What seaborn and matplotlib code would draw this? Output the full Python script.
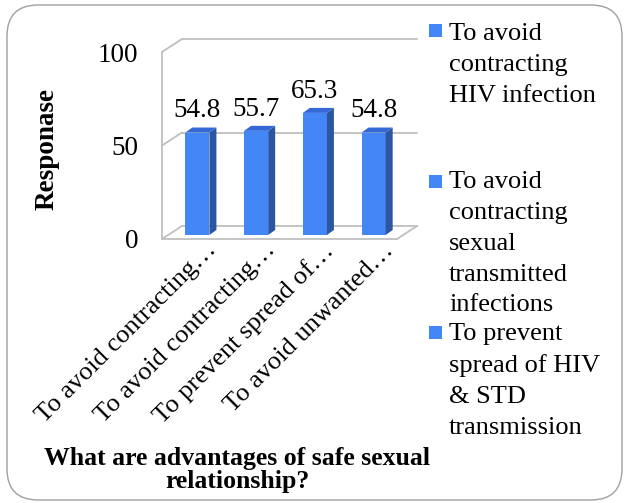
import matplotlib
matplotlib.use("Agg")
import matplotlib.pyplot as plt
import matplotlib.transforms as mtransforms
from matplotlib.patches import Polygon, Rectangle, FancyBboxPatch
import seaborn as sns
import pandas as pd

# ---- data ----
categories = [
    "To avoid contracting HIV infection",
    "To avoid contracting sexual transmitted infections",
    "To prevent spread of HIV & STD transmission",
    "To avoid unwanted pregnancy",
]
tick_labels = [
    "To avoid contracting…",
    "To avoid contracting…",
    "To prevent spread of…",
    "To avoid unwanted…",
]
values = [54.8, 55.7, 65.3, 54.8]
legend_labels = [
    "To avoid\ncontracting\nHIV infection",
    "To avoid\ncontracting\nsexual\ntransmitted\ninfections",
    "To prevent\nspread of HIV\n& STD\ntransmission",
]
y_ticks = [0, 50, 100]
x_title = "What are advantages of safe sexual\nrelationship?"
y_title = "Responase"

FRONT = "#4287F5"
SIDE = "#2C56A0"
TOP = "#3468D6"
GRID = "#BFBFBF"

sns.set_theme(style="white")
plt.rcParams["font.family"] = ["Liberation Serif", "DejaVu Serif"]

FS = 19.5      # y tick / value labels
FS_X = 19.0    # category labels
FS_LEG = 19.0  # legend text

W, H, DPI = 624, 503, 100
fig = plt.figure(figsize=(W / DPI, H / DPI), dpi=DPI, facecolor="white")

# front plane of the 3D box, in image pixels
fx0, fx1, fy100, fy0 = 162, 397, 52, 239
ax = fig.add_axes([fx0 / W, (H - fy0) / H, (fx1 - fx0) / W, (fy0 - fy100) / H])
ax.set_facecolor("none")

df = pd.DataFrame({"label": tick_labels, "cat": categories, "value": values})
df["pos"] = range(len(df))
sns.barplot(data=df, x="pos", y="value", color=FRONT, width=0.41,
            saturation=1, ax=ax, native_scale=False, linewidth=0)

ax.set_xlim(-0.5, len(values) - 0.5)
ax.set_ylim(0, 100)
for s in ax.spines.values():
    s.set_visible(False)

# pixel -> data units
ux = (len(values)) / (fx1 - fx0)
uy = 100.0 / (fy0 - fy100)

def off(dx_px, dy_px):
    return ax.transData + mtransforms.ScaledTranslation(dx_px / DPI, dy_px / DPI, fig.dpi_scale_trans)

bar_t = off(6, 4)
back_t = off(20, 13)
xl, xr = ax.get_xlim()

# back wall gridlines
for yv in y_ticks:
    ax.plot([xl, xr], [yv, yv], color=GRID, lw=1.3, transform=back_t, clip_on=False, zorder=0)
    # side wall diagonal
    ax.plot([xl, xl + 20 * ux], [yv, yv + 13 * uy], color=GRID, lw=1.3, clip_on=False, zorder=0)
# front left edge, floor front edge, floor right edge
ax.plot([xl, xl], [0, 100], color=GRID, lw=1.3, clip_on=False, zorder=0)
ax.plot([xl, xr], [0, 0], color=GRID, lw=1.3, clip_on=False, zorder=0)
ax.plot([xr, xr + 20 * ux], [0, 13 * uy], color=GRID, lw=1.3, clip_on=False, zorder=0)

# 3D bars: shift front faces, add side and top faces
dpx, dpy = 7, 5
for p, v in zip(ax.patches, values):
    p.set_transform(bar_t)
    p.set_clip_on(False)
    x0 = p.get_x()
    x1 = x0 + p.get_width()
    h = p.get_height()
    side = Polygon([(x1, 0), (x1 + dpx * ux, dpy * uy), (x1 + dpx * ux, h + dpy * uy), (x1, h)],
                   closed=True, facecolor=SIDE, edgecolor="none", transform=bar_t, clip_on=False, zorder=3)
    top = Polygon([(x0, h), (x1, h), (x1 + dpx * ux, h + dpy * uy), (x0 + dpx * ux, h + dpy * uy)],
                  closed=True, facecolor=TOP, edgecolor="none", transform=bar_t, clip_on=False, zorder=3)
    ax.add_patch(side)
    ax.add_patch(top)
    ax.annotate(f"{v:.1f}", xy=(p.get_x() + p.get_width() / 2, h), xycoords=bar_t,
                xytext=(0, 11), textcoords="offset points", ha="center", va="baseline",
                fontsize=FS, color="black")

# ticks
ax.set_yticks(y_ticks)
ax.set_yticklabels([str(t) for t in y_ticks])
ax.tick_params(axis="y", length=0, pad=17, labelsize=FS, colors="black")
ax.set_xticks(range(len(values)))
ax.set_xticklabels(tick_labels, rotation=45, ha="right")
ax.tick_params(axis="x", length=0, pad=0, labelsize=FS_X, colors="black")
for lab in ax.get_xticklabels():
    lab.set_transform(lab.get_transform() + mtransforms.ScaledTranslation(30 / DPI, 0, fig.dpi_scale_trans))

ax.set_xlabel(x_title, fontsize=18.5, fontweight="bold", linespacing=0.95, color="black")
ax.xaxis.set_label_coords((237 - fx0) / (fx1 - fx0), (fy0 - 470) / (fy0 - fy100))
ax.xaxis.label.set_va("center")
ax.set_ylabel(y_title, fontsize=19.5, fontweight="bold", color="black")
ax.yaxis.set_label_coords((47 - fx0) / (fx1 - fx0), (fy0 - 149) / (fy0 - fy100))
ax.yaxis.label.set_va("center")

# legend (Excel style: equal slots)
slot_tops = [23, 171, 323]
marker_centers = [30, 181, 332]
for lab, top_y, mc in zip(legend_labels, slot_tops, marker_centers):
    fig.patches.append(Rectangle((429 / W, (H - (mc + 6.5)) / H), 13 / W, 13 / H,
                                 transform=fig.transFigure, facecolor=FRONT, edgecolor="none"))
    fig.text(449 / W, (H - top_y) / H, lab, ha="left", va="top", fontsize=FS_LEG,
             linespacing=1.52, color="black")

# chart border
fig.patches.append(FancyBboxPatch((7 / W, 3 / H), (622 - 7) / W, (499 - 4) / H,
                                  boxstyle="round,pad=0,rounding_size=0.05",
                                  transform=fig.transFigure, facecolor="none",
                                  edgecolor="#A0A0A0", lw=1.0, zorder=-1,
                                  mutation_aspect=W / H))

fig.savefig("out.png", dpi=DPI, facecolor="white")
